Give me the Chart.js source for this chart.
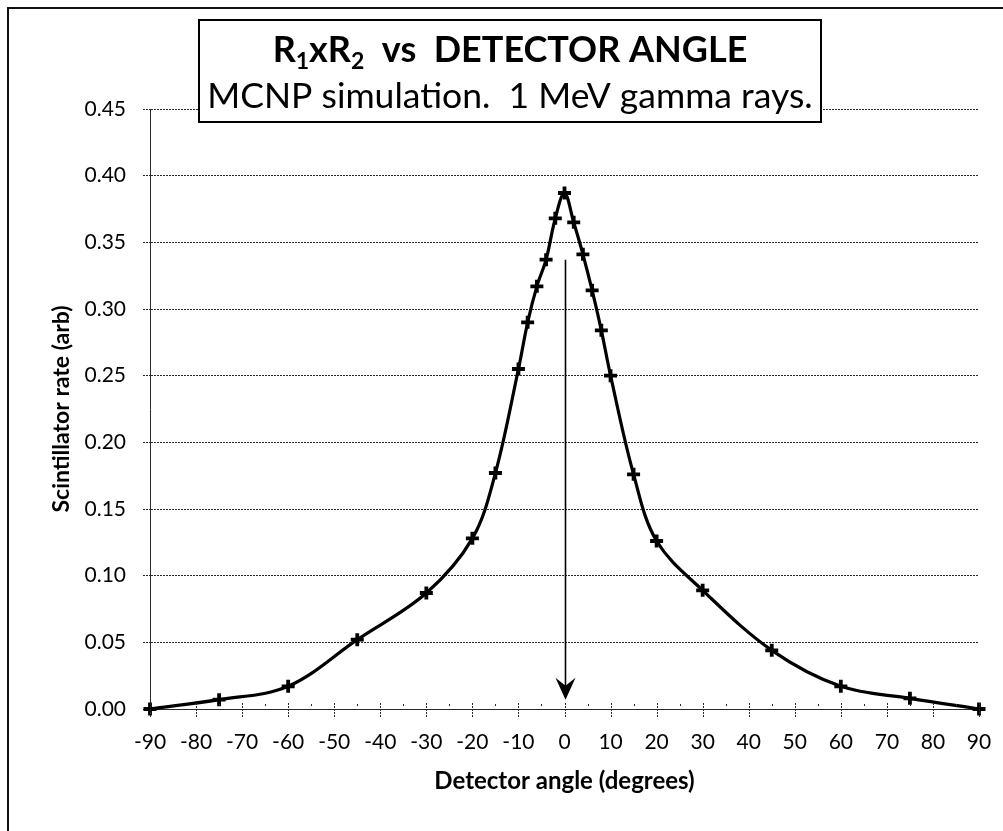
<!DOCTYPE html>
<html>
<head>
<meta charset="utf-8">
<script src="https://cdn.jsdelivr.net/npm/chart.js@4/dist/chart.umd.min.js"></script>
<style>
  html, body { margin: 0; padding: 0; background: #fff; overflow: hidden; }
  canvas { display: block; }
</style>
</head>
<body>
<canvas id="mychart" width="1003" height="831"></canvas>
<script>
// detector angle (degrees) and scintillator rate (arb)
const angles = [-90, -75, -60, -45, -30, -20, -15, -10, -8, -6, -4, -2, 0,
    2, 4, 6, 8, 10, 15, 20, 30, 45, 60, 75, 90];
const rates = [0.000, 0.007, 0.017, 0.052, 0.087, 0.128, 0.177, 0.255, 0.290, 0.317, 0.337, 0.368, 0.387,
    0.365, 0.341, 0.314, 0.284, 0.250, 0.176, 0.126, 0.089, 0.044, 0.017, 0.008, 0.000];
const xTicks = [-90, -80, -70, -60, -50, -40, -30, -20, -10, 0, 10, 20, 30, 40, 50, 60, 70, 80, 90];
const yTicks = [0, 0.05, 0.10, 0.15, 0.20, 0.25, 0.30, 0.35, 0.40, 0.45];

const titleLine1 = [
    { text: 'R' }, { text: '1', sub: true }, { text: 'xR' }, { text: '2', sub: true }, { text: '  vs  DETECTOR ANGLE' }
];
const titleLine2 = 'MCNP simulation.  1 MeV gamma rays.';
// 화살표: x=0 에서 아래로
const arrowAngle = 0;
const arrowFrom = 0.337;
const arrowTo = 0.007;

const FONT = 'Lato, "Open Sans", sans-serif';
const gridColor = '#2a2a2a';
const gridDash = [2, 1];

// 바깥 테두리 (좌/상단만 보임)
const frameBorder = {
    id: 'frameBorder',
    beforeDraw(chart) {
        const { ctx } = chart;
        ctx.save();
        ctx.fillStyle = '#ffffff';
        ctx.fillRect(0, 0, chart.width, chart.height);
        ctx.strokeStyle = '#111';
        ctx.lineWidth = 2;
        ctx.strokeRect(8, 8, chart.width + 40, chart.height + 40);
        ctx.restore();
    }
};

// x축 눈금: 10 단위는 축을 가로지르는 점선, 5 단위는 작은 점
const xTickMarks = {
    id: 'xTickMarks',
    afterDatasetsDraw(chart) {
        const { ctx, scales } = chart;
        const y0 = scales.y.getPixelForValue(0);
        ctx.save();
        ctx.strokeStyle = gridColor;
        ctx.lineWidth = 1;
        for (let v = -90; v <= 90; v += 5) {
            const px = Math.round(scales.x.getPixelForValue(v)) + 0.5;
            ctx.beginPath();
            if (v % 10 === 0) {
                ctx.setLineDash([2, 1]);
                ctx.moveTo(px, y0 - 6);
                ctx.lineTo(px, y0 + 8);
            } else {
                ctx.setLineDash([]);
                ctx.moveTo(px, y0 - 5);
                ctx.lineTo(px, y0 - 3);
            }
            ctx.stroke();
        }
        ctx.restore();
    }
};

const arrowOverlay = {
    id: 'arrowOverlay',
    afterDatasetsDraw(chart) {
        const { ctx, scales } = chart;
        const x = Math.round(scales.x.getPixelForValue(arrowAngle)) + 0.5;
        const top = scales.y.getPixelForValue(arrowFrom);
        const tip = scales.y.getPixelForValue(arrowTo);
        ctx.save();
        ctx.strokeStyle = '#000';
        ctx.fillStyle = '#000';
        ctx.lineWidth = 1.6;
        ctx.beginPath();
        ctx.moveTo(x, top);
        ctx.lineTo(x, tip - 10);
        ctx.stroke();
        ctx.beginPath();
        ctx.moveTo(x, tip);
        ctx.lineTo(x - 10, tip - 22);
        ctx.lineTo(x, tip - 14);
        ctx.lineTo(x + 10, tip - 22);
        ctx.closePath();
        ctx.fill();
        ctx.restore();
    }
};

const titleBox = {
    id: 'titleBox',
    afterDraw(chart) {
        const { ctx } = chart;
        const box = { left: 199, top: 20, right: 821, bottom: 122 };
        const cx = (box.left + box.right) / 2;
        ctx.save();
        ctx.fillStyle = '#ffffff';
        ctx.fillRect(box.left, box.top, box.right - box.left, box.bottom - box.top);
        ctx.strokeStyle = '#000';
        ctx.lineWidth = 2;
        ctx.strokeRect(box.left, box.top, box.right - box.left, box.bottom - box.top);

        // 1행: 아래첨자 포함
        const size = 36;
        const subSize = 23;
        const widths = titleLine1.map((seg) => {
            ctx.font = `700 ${seg.sub ? subSize : size}px ${FONT}`;
            return ctx.measureText(seg.text).width;
        });
        const total = widths.reduce((a, b) => a + b, 0);
        let x = cx - total / 2;
        const base1 = 62;
        ctx.fillStyle = '#000';
        ctx.textBaseline = 'alphabetic';
        ctx.textAlign = 'left';
        titleLine1.forEach((seg, i) => {
            ctx.font = `700 ${seg.sub ? subSize : size}px ${FONT}`;
            ctx.fillText(seg.text, x, seg.sub ? base1 + 7 : base1);
            x += widths[i];
        });

        // 2행
        ctx.font = `400 35.5px ${FONT}`;
        ctx.textAlign = 'center';
        ctx.fillText(titleLine2, cx, 108);
        ctx.restore();
    }
};

new Chart(document.getElementById('mychart'), {
    type: 'scatter',
    plugins: [frameBorder, xTickMarks, arrowOverlay, titleBox],
    data: {
        datasets: [{
            data: angles.map((a, i) => ({ x: a, y: rates[i] })),
            showLine: true,
            clip: false,
            tension: 0.35,
            borderColor: '#000',
            borderWidth: 3.2,
            backgroundColor: '#000',
            pointStyle: 'cross',
            pointRadius: 6.5,
            pointBorderWidth: 3.8,
            pointBorderColor: '#000'
        }]
    },
    options: {
        responsive: false,
        maintainAspectRatio: false,
        animation: false,
        layout: {
            padding: { top: 109, right: 24, left: 0, bottom: 0 }
        },
        plugins: {
            legend: { display: false },
            tooltip: { enabled: false }
        },
        scales: {
            x: {
                type: 'linear',
                min: -90,
                max: 90,
                afterFit(scale) { scale.height = 122; },
                afterBuildTicks(scale) { scale.ticks = xTicks.map((v) => ({ value: v })); },
                grid: { display: false, drawTicks: false },
                border: { display: true, color: gridColor, dash: gridDash, width: 1 },
                ticks: {
                    padding: 10,
                    color: '#000',
                    font: { family: FONT, size: 21, lineHeight: 2.24 },
                    maxRotation: 0,
                    autoSkip: false
                },
                title: {
                    display: true,
                    text: 'Detector angle (degrees)',
                    color: '#000',
                    font: { family: FONT, size: 24, weight: '700' },
                    padding: { top: 35, bottom: 35 }
                }
            },
            y: {
                type: 'linear',
                min: 0,
                max: 0.45,
                afterFit(scale) { scale.width = 150; },
                afterBuildTicks(scale) { scale.ticks = yTicks.map((v) => ({ value: v })); },
                grid: {
                    color: gridColor,
                    lineWidth: 1,
                    tickLength: 7,
                    tickColor: gridColor,
                    tickBorderDash: gridDash
                },
                border: { display: true, color: gridColor, dash: gridDash, width: 1 },
                ticks: {
                    padding: 17,
                    color: '#000',
                    font: { family: FONT, size: 21 },
                    callback(value) { return value.toFixed(2); }
                },
                title: {
                    display: true,
                    text: 'Scintillator rate (arb)',
                    color: '#000',
                    font: { family: FONT, size: 23, weight: '700' },
                    padding: { top: 48, bottom: 48 }
                }
            }
        }
    }
});
</script>
</body>
</html>
